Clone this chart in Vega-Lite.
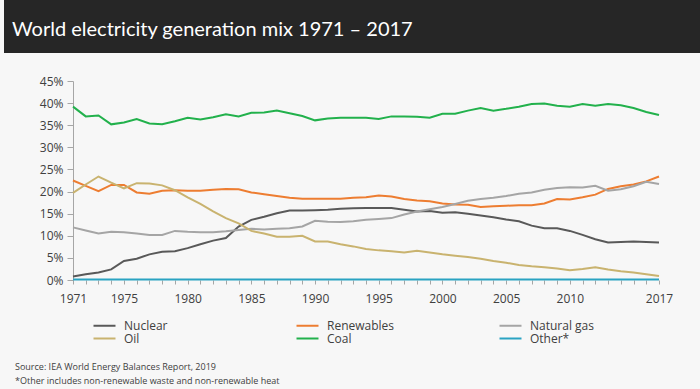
{
 "$schema": "https://vega.github.io/schema/vega-lite/v6.json",
 "background": "#f7f7f7",
 "padding": {"left": 4, "top": 0, "right": 0, "bottom": 4},
 "config": {"view": {"stroke": null}, "font": "Open Sans"},
 "columns": 1,
 "bounds": "full",
 "spacing": 22,
 "concat": [
  {
   "width": 696, "height": 53,
   "data": {"values": [{"label": "bar"}]},
   "mark": {"type": "rect", "color": "#262626"},
   "encoding": {},
   "title": {"text": "World electricity generation mix 1971 – 2017", "orient": "top", "anchor": "start", "frame": "group", "offset": -50, "baseline": "middle", "dx": 8, "color": "#ffffff", "font": "Lato", "fontSize": 20, "fontWeight": "normal"}
  },
  {
   "width": 655, "height": 199,
   "data": {"values": [
{"year":1971,"source":"Nuclear","share":0.8},{"year":1972,"source":"Nuclear","share":1.3},{"year":1973,"source":"Nuclear","share":1.7},{"year":1974,"source":"Nuclear","share":2.4},{"year":1975,"source":"Nuclear","share":4.3},{"year":1976,"source":"Nuclear","share":4.8},{"year":1977,"source":"Nuclear","share":5.8},{"year":1978,"source":"Nuclear","share":6.4},{"year":1979,"source":"Nuclear","share":6.5},{"year":1980,"source":"Nuclear","share":7.2},{"year":1981,"source":"Nuclear","share":8.1},{"year":1982,"source":"Nuclear","share":8.9},{"year":1983,"source":"Nuclear","share":9.5},{"year":1984,"source":"Nuclear","share":12.1},{"year":1985,"source":"Nuclear","share":13.6},{"year":1986,"source":"Nuclear","share":14.3},{"year":1987,"source":"Nuclear","share":15.1},{"year":1988,"source":"Nuclear","share":15.7},{"year":1989,"source":"Nuclear","share":15.7},{"year":1990,"source":"Nuclear","share":15.8},{"year":1991,"source":"Nuclear","share":15.9},{"year":1992,"source":"Nuclear","share":16.1},{"year":1993,"source":"Nuclear","share":16.2},{"year":1994,"source":"Nuclear","share":16.3},{"year":1995,"source":"Nuclear","share":16.3},{"year":1996,"source":"Nuclear","share":16.3},{"year":1997,"source":"Nuclear","share":15.9},{"year":1998,"source":"Nuclear","share":15.5},{"year":1999,"source":"Nuclear","share":15.6},{"year":2000,"source":"Nuclear","share":15.2},{"year":2001,"source":"Nuclear","share":15.3},{"year":2002,"source":"Nuclear","share":15.0},{"year":2003,"source":"Nuclear","share":14.6},{"year":2004,"source":"Nuclear","share":14.2},{"year":2005,"source":"Nuclear","share":13.7},{"year":2006,"source":"Nuclear","share":13.3},{"year":2007,"source":"Nuclear","share":12.3},{"year":2008,"source":"Nuclear","share":11.7},{"year":2009,"source":"Nuclear","share":11.7},{"year":2010,"source":"Nuclear","share":11.1},{"year":2011,"source":"Nuclear","share":10.2},{"year":2012,"source":"Nuclear","share":9.2},{"year":2013,"source":"Nuclear","share":8.5},{"year":2014,"source":"Nuclear","share":8.6},{"year":2015,"source":"Nuclear","share":8.7},{"year":2016,"source":"Nuclear","share":8.6},{"year":2017,"source":"Nuclear","share":8.5},
{"year":1971,"source":"Renewables","share":22.5},{"year":1972,"source":"Renewables","share":21.3},{"year":1973,"source":"Renewables","share":20.1},{"year":1974,"source":"Renewables","share":21.5},{"year":1975,"source":"Renewables","share":21.5},{"year":1976,"source":"Renewables","share":19.8},{"year":1977,"source":"Renewables","share":19.5},{"year":1978,"source":"Renewables","share":20.2},{"year":1979,"source":"Renewables","share":20.3},{"year":1980,"source":"Renewables","share":20.2},{"year":1981,"source":"Renewables","share":20.2},{"year":1982,"source":"Renewables","share":20.4},{"year":1983,"source":"Renewables","share":20.6},{"year":1984,"source":"Renewables","share":20.5},{"year":1985,"source":"Renewables","share":19.8},{"year":1986,"source":"Renewables","share":19.4},{"year":1987,"source":"Renewables","share":19.0},{"year":1988,"source":"Renewables","share":18.6},{"year":1989,"source":"Renewables","share":18.4},{"year":1990,"source":"Renewables","share":18.4},{"year":1991,"source":"Renewables","share":18.4},{"year":1992,"source":"Renewables","share":18.4},{"year":1993,"source":"Renewables","share":18.6},{"year":1994,"source":"Renewables","share":18.7},{"year":1995,"source":"Renewables","share":19.1},{"year":1996,"source":"Renewables","share":18.9},{"year":1997,"source":"Renewables","share":18.3},{"year":1998,"source":"Renewables","share":18.0},{"year":1999,"source":"Renewables","share":17.8},{"year":2000,"source":"Renewables","share":17.3},{"year":2001,"source":"Renewables","share":17.1},{"year":2002,"source":"Renewables","share":17.0},{"year":2003,"source":"Renewables","share":16.5},{"year":2004,"source":"Renewables","share":16.7},{"year":2005,"source":"Renewables","share":16.8},{"year":2006,"source":"Renewables","share":16.9},{"year":2007,"source":"Renewables","share":16.9},{"year":2008,"source":"Renewables","share":17.3},{"year":2009,"source":"Renewables","share":18.3},{"year":2010,"source":"Renewables","share":18.2},{"year":2011,"source":"Renewables","share":18.7},{"year":2012,"source":"Renewables","share":19.3},{"year":2013,"source":"Renewables","share":20.6},{"year":2014,"source":"Renewables","share":21.2},{"year":2015,"source":"Renewables","share":21.6},{"year":2016,"source":"Renewables","share":22.3},{"year":2017,"source":"Renewables","share":23.4},
{"year":1971,"source":"Natural gas","share":11.9},{"year":1972,"source":"Natural gas","share":11.2},{"year":1973,"source":"Natural gas","share":10.5},{"year":1974,"source":"Natural gas","share":10.9},{"year":1975,"source":"Natural gas","share":10.8},{"year":1976,"source":"Natural gas","share":10.5},{"year":1977,"source":"Natural gas","share":10.2},{"year":1978,"source":"Natural gas","share":10.2},{"year":1979,"source":"Natural gas","share":11.1},{"year":1980,"source":"Natural gas","share":10.9},{"year":1981,"source":"Natural gas","share":10.8},{"year":1982,"source":"Natural gas","share":10.8},{"year":1983,"source":"Natural gas","share":11.0},{"year":1984,"source":"Natural gas","share":11.3},{"year":1985,"source":"Natural gas","share":11.6},{"year":1986,"source":"Natural gas","share":11.4},{"year":1987,"source":"Natural gas","share":11.6},{"year":1988,"source":"Natural gas","share":11.7},{"year":1989,"source":"Natural gas","share":12.1},{"year":1990,"source":"Natural gas","share":13.4},{"year":1991,"source":"Natural gas","share":13.2},{"year":1992,"source":"Natural gas","share":13.1},{"year":1993,"source":"Natural gas","share":13.3},{"year":1994,"source":"Natural gas","share":13.6},{"year":1995,"source":"Natural gas","share":13.8},{"year":1996,"source":"Natural gas","share":14.0},{"year":1997,"source":"Natural gas","share":14.8},{"year":1998,"source":"Natural gas","share":15.5},{"year":1999,"source":"Natural gas","share":16.0},{"year":2000,"source":"Natural gas","share":16.5},{"year":2001,"source":"Natural gas","share":17.2},{"year":2002,"source":"Natural gas","share":17.9},{"year":2003,"source":"Natural gas","share":18.3},{"year":2004,"source":"Natural gas","share":18.6},{"year":2005,"source":"Natural gas","share":19.0},{"year":2006,"source":"Natural gas","share":19.5},{"year":2007,"source":"Natural gas","share":19.8},{"year":2008,"source":"Natural gas","share":20.4},{"year":2009,"source":"Natural gas","share":20.8},{"year":2010,"source":"Natural gas","share":21.0},{"year":2011,"source":"Natural gas","share":20.9},{"year":2012,"source":"Natural gas","share":21.3},{"year":2013,"source":"Natural gas","share":20.2},{"year":2014,"source":"Natural gas","share":20.5},{"year":2015,"source":"Natural gas","share":21.2},{"year":2016,"source":"Natural gas","share":22.2},{"year":2017,"source":"Natural gas","share":21.7},
{"year":1971,"source":"Oil","share":19.7},{"year":1972,"source":"Oil","share":21.6},{"year":1973,"source":"Oil","share":23.4},{"year":1974,"source":"Oil","share":22.0},{"year":1975,"source":"Oil","share":20.7},{"year":1976,"source":"Oil","share":21.9},{"year":1977,"source":"Oil","share":21.8},{"year":1978,"source":"Oil","share":21.4},{"year":1979,"source":"Oil","share":20.3},{"year":1980,"source":"Oil","share":18.7},{"year":1981,"source":"Oil","share":17.2},{"year":1982,"source":"Oil","share":15.5},{"year":1983,"source":"Oil","share":14.0},{"year":1984,"source":"Oil","share":12.8},{"year":1985,"source":"Oil","share":11.1},{"year":1986,"source":"Oil","share":10.5},{"year":1987,"source":"Oil","share":9.8},{"year":1988,"source":"Oil","share":9.8},{"year":1989,"source":"Oil","share":10.0},{"year":1990,"source":"Oil","share":8.7},{"year":1991,"source":"Oil","share":8.7},{"year":1992,"source":"Oil","share":8.1},{"year":1993,"source":"Oil","share":7.6},{"year":1994,"source":"Oil","share":7.0},{"year":1995,"source":"Oil","share":6.7},{"year":1996,"source":"Oil","share":6.5},{"year":1997,"source":"Oil","share":6.2},{"year":1998,"source":"Oil","share":6.6},{"year":1999,"source":"Oil","share":6.2},{"year":2000,"source":"Oil","share":5.8},{"year":2001,"source":"Oil","share":5.5},{"year":2002,"source":"Oil","share":5.2},{"year":2003,"source":"Oil","share":4.8},{"year":2004,"source":"Oil","share":4.3},{"year":2005,"source":"Oil","share":3.9},{"year":2006,"source":"Oil","share":3.4},{"year":2007,"source":"Oil","share":3.1},{"year":2008,"source":"Oil","share":2.9},{"year":2009,"source":"Oil","share":2.6},{"year":2010,"source":"Oil","share":2.2},{"year":2011,"source":"Oil","share":2.5},{"year":2012,"source":"Oil","share":2.9},{"year":2013,"source":"Oil","share":2.4},{"year":2014,"source":"Oil","share":2.0},{"year":2015,"source":"Oil","share":1.7},{"year":2016,"source":"Oil","share":1.3},{"year":2017,"source":"Oil","share":0.9},
{"year":1971,"source":"Coal","share":39.2},{"year":1972,"source":"Coal","share":37.0},{"year":1973,"source":"Coal","share":37.2},{"year":1974,"source":"Coal","share":35.2},{"year":1975,"source":"Coal","share":35.6},{"year":1976,"source":"Coal","share":36.4},{"year":1977,"source":"Coal","share":35.4},{"year":1978,"source":"Coal","share":35.2},{"year":1979,"source":"Coal","share":35.9},{"year":1980,"source":"Coal","share":36.7},{"year":1981,"source":"Coal","share":36.3},{"year":1982,"source":"Coal","share":36.8},{"year":1983,"source":"Coal","share":37.5},{"year":1984,"source":"Coal","share":37.0},{"year":1985,"source":"Coal","share":37.8},{"year":1986,"source":"Coal","share":37.9},{"year":1987,"source":"Coal","share":38.3},{"year":1988,"source":"Coal","share":37.7},{"year":1989,"source":"Coal","share":37.1},{"year":1990,"source":"Coal","share":36.1},{"year":1991,"source":"Coal","share":36.5},{"year":1992,"source":"Coal","share":36.7},{"year":1993,"source":"Coal","share":36.7},{"year":1994,"source":"Coal","share":36.7},{"year":1995,"source":"Coal","share":36.4},{"year":1996,"source":"Coal","share":37.0},{"year":1997,"source":"Coal","share":37.0},{"year":1998,"source":"Coal","share":36.9},{"year":1999,"source":"Coal","share":36.7},{"year":2000,"source":"Coal","share":37.6},{"year":2001,"source":"Coal","share":37.6},{"year":2002,"source":"Coal","share":38.3},{"year":2003,"source":"Coal","share":38.9},{"year":2004,"source":"Coal","share":38.3},{"year":2005,"source":"Coal","share":38.7},{"year":2006,"source":"Coal","share":39.2},{"year":2007,"source":"Coal","share":39.8},{"year":2008,"source":"Coal","share":39.9},{"year":2009,"source":"Coal","share":39.4},{"year":2010,"source":"Coal","share":39.2},{"year":2011,"source":"Coal","share":39.8},{"year":2012,"source":"Coal","share":39.4},{"year":2013,"source":"Coal","share":39.8},{"year":2014,"source":"Coal","share":39.5},{"year":2015,"source":"Coal","share":38.9},{"year":2016,"source":"Coal","share":38.0},{"year":2017,"source":"Coal","share":37.3},
{"year":1971,"source":"Other*","share":0.1},{"year":1972,"source":"Other*","share":0.1},{"year":1973,"source":"Other*","share":0.1},{"year":1974,"source":"Other*","share":0.1},{"year":1975,"source":"Other*","share":0.1},{"year":1976,"source":"Other*","share":0.1},{"year":1977,"source":"Other*","share":0.1},{"year":1978,"source":"Other*","share":0.1},{"year":1979,"source":"Other*","share":0.1},{"year":1980,"source":"Other*","share":0.1},{"year":1981,"source":"Other*","share":0.1},{"year":1982,"source":"Other*","share":0.1},{"year":1983,"source":"Other*","share":0.1},{"year":1984,"source":"Other*","share":0.1},{"year":1985,"source":"Other*","share":0.1},{"year":1986,"source":"Other*","share":0.1},{"year":1987,"source":"Other*","share":0.1},{"year":1988,"source":"Other*","share":0.1},{"year":1989,"source":"Other*","share":0.1},{"year":1990,"source":"Other*","share":0.1},{"year":1991,"source":"Other*","share":0.1},{"year":1992,"source":"Other*","share":0.1},{"year":1993,"source":"Other*","share":0.1},{"year":1994,"source":"Other*","share":0.1},{"year":1995,"source":"Other*","share":0.1},{"year":1996,"source":"Other*","share":0.1},{"year":1997,"source":"Other*","share":0.1},{"year":1998,"source":"Other*","share":0.1},{"year":1999,"source":"Other*","share":0.1},{"year":2000,"source":"Other*","share":0.1},{"year":2001,"source":"Other*","share":0.1},{"year":2002,"source":"Other*","share":0.1},{"year":2003,"source":"Other*","share":0.1},{"year":2004,"source":"Other*","share":0.1},{"year":2005,"source":"Other*","share":0.1},{"year":2006,"source":"Other*","share":0.1},{"year":2007,"source":"Other*","share":0.1},{"year":2008,"source":"Other*","share":0.1},{"year":2009,"source":"Other*","share":0.1},{"year":2010,"source":"Other*","share":0.1},{"year":2011,"source":"Other*","share":0.1},{"year":2012,"source":"Other*","share":0.1},{"year":2013,"source":"Other*","share":0.1},{"year":2014,"source":"Other*","share":0.1},{"year":2015,"source":"Other*","share":0.1},{"year":2016,"source":"Other*","share":0.1},{"year":2017,"source":"Other*","share":0.1}
   ]},
   "mark": {"type": "line", "strokeWidth": 2},
   "encoding": {
    "x": {"field": "year", "type": "quantitative",
          "scale": {"domain": [1965.584, 2017], "nice": false, "zero": false},
          "axis": {"title": null, "grid": false, "domain": false,
                   "values": [1971,1972,1973,1974,1975,1976,1977,1978,1979,1980,1981,1982,1983,1984,1985,1986,1987,1988,1989,1990,1991,1992,1993,1994,1995,1996,1997,1998,1999,2000,2001,2002,2003,2004,2005,2006,2007,2008,2009,2010,2011,2012,2013,2014,2015,2016,2017],
                   "labelExpr": "indexof([1971,1975,1980,1985,1990,1995,2000,2005,2010,2017], datum.value) >= 0 ? '' + datum.value : ''",
                   "labelOverlap": false, "labelFlush": false, "labelAngle": 0,
                   "tickSize": 4, "labelPadding": 9, "labelFontSize": 12, "labelColor": "#404040",
                   "tickColor": "#a6a6a6"}},
    "y": {"field": "share", "type": "quantitative",
          "scale": {"domain": [0, 45], "nice": false},
          "axis": {"title": null, "grid": false, "values": [0,5,10,15,20,25,30,35,40,45],
                   "labelExpr": "datum.value + '%'", "tickSize": 6, "labelPadding": 4, "offset": -69,
                   "labelFontSize": 12, "labelColor": "#404040",
                   "domainColor": "#a6a6a6", "tickColor": "#a6a6a6"}},
    "color": {"field": "source", "type": "nominal",
              "scale": {"domain": ["Nuclear", "Renewables", "Natural gas", "Oil", "Coal", "Other*"],
                        "range": ["#595959", "#ED7D31", "#A5A5A5", "#C9B36F", "#22B14C", "#2AA3C2"]},
              "legend": {"title": null, "orient": "none", "legendX": 94, "legendY": 319,
                         "direction": "horizontal", "columns": 3, "symbolType": "M-2,0H2",
                         "symbolSize": 121, "symbolStrokeWidth": 2, "labelOffset": 13,
                         "labelFontSize": 12, "labelColor": "#404040", "gridAlign": "all",
                         "columnPadding": 100, "rowPadding": 0}}
   },
   "title": {"text": ["Source: IEA World Energy Balances Report, 2019", "*Other includes non-renewable waste and non-renewable heat"],
             "orient": "bottom", "anchor": "start", "frame": "group", "dx": 11, "offset": 59,
             "fontSize": 9, "fontWeight": "normal", "color": "#404040", "lineHeight": 14}
  }
 ]
}
